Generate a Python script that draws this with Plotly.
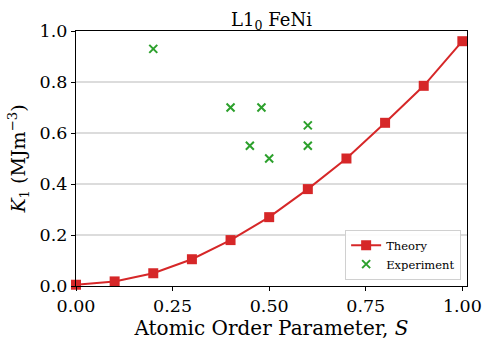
import plotly.graph_objects as go

theory_s = [0.0, 0.1, 0.2, 0.3, 0.4, 0.5, 0.6, 0.7, 0.8, 0.9, 1.0]
theory_k = [0.005, 0.018, 0.05, 0.105, 0.18, 0.27, 0.38, 0.50, 0.64, 0.785, 0.96]
exp_s = [0.2, 0.4, 0.45, 0.48, 0.5, 0.6, 0.6]
exp_k = [0.93, 0.70, 0.55, 0.70, 0.50, 0.63, 0.55]
x_ticks = [0.0, 0.25, 0.5, 0.75, 1.0]
x_labels = ["0.00", "0.25", "0.50", "0.75", "1.00"]
y_ticks = [0.0, 0.2, 0.4, 0.6, 0.8, 1.0]
y_labels = ["0.0", "0.2", "0.4", "0.6", "0.8", "1.0"]

RED = "#d62728"
GREEN = "#2ca02c"
FONT = "DejaVu Serif"

fig = go.Figure()
fig.add_trace(go.Scatter(x=theory_s, y=theory_k, mode="lines+markers", name="Theory",
                         line=dict(color=RED, width=2),
                         marker=dict(symbol="square", size=10, color=RED),
                         cliponaxis=False))
fig.add_trace(go.Scatter(x=exp_s, y=exp_k, mode="markers", name="Experiment",
                         marker=dict(symbol="x-thin", size=8, color=GREEN,
                                     line=dict(color=GREEN, width=2))))

fig.update_layout(
    width=485, height=340,
    margin=dict(l=76, r=18, t=31, b=54, autoexpand=False),
    paper_bgcolor="white", plot_bgcolor="white",
    font=dict(family=FONT, color="black"),
    title=dict(text="L1<sub>0</sub> FeNi", x=0.5, xref="paper", xanchor="center",
               y=1.0, yref="paper", yanchor="bottom", pad=dict(b=5),
               font=dict(size=18, family=FONT)),
    showlegend=True,
    legend=dict(x=0.985, y=0.025, xanchor="right", yanchor="bottom",
                bgcolor="rgba(255,255,255,0.9)", bordercolor="#d0d0d0", borderwidth=1,
                font=dict(size=11.5, family=FONT), tracegroupgap=2),
)
fig.update_xaxes(range=[0, 1.012], tickvals=x_ticks, ticktext=x_labels, automargin=False,
                 showgrid=False, showline=True, linecolor="black", linewidth=1.2, mirror=True,
                 ticks="outside", ticklen=4, tickcolor="black",
                 tickfont=dict(size=17.5, family=FONT),
                 title=dict(text="Atomic Order Parameter, <i>S</i>", font=dict(size=20, family=FONT), standoff=3),
                 zeroline=False)
fig.update_yaxes(range=[0, 1.0], tickvals=y_ticks, ticktext=y_labels, automargin=False,
                 showgrid=True, gridcolor="#dcdcdc", gridwidth=1.5,
                 showline=True, linecolor="black", linewidth=1.2, mirror=True,
                 ticks="outside", ticklen=4, tickcolor="black",
                 tickfont=dict(size=17.5, family=FONT),
                 title=dict(text="<i>K</i><sub>1</sub> (MJm<sup>−3</sup>)", font=dict(size=19, family=FONT), standoff=8),
                 zeroline=False)

fig.write_html("out.html", config={"displayModeBar": False},
               post_script="document.body.style.margin='0';")
